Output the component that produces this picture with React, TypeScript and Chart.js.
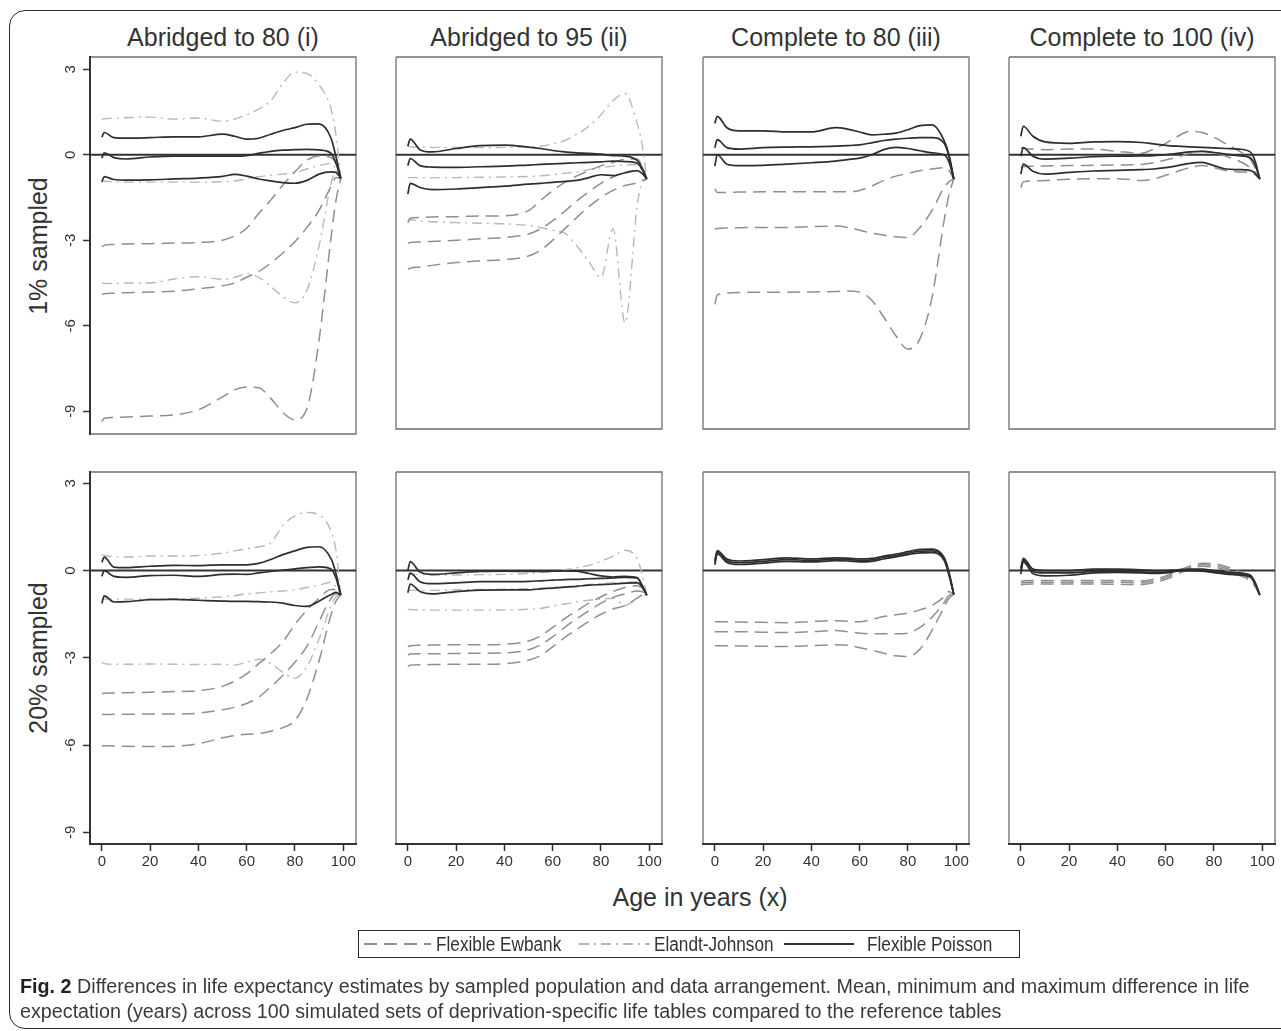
import React, { useEffect, useLayoutEffect, useRef } from 'react';
import { Chart, registerables } from 'chart.js';

Chart.register(...registerables);

const FONT = '"Liberation Sans", Arial, Helvetica, sans-serif';

// ---------- shared axes ----------
const AGES = [0, 1, 5, 10, 20, 30, 40, 50, 55, 60, 65, 70, 75, 80, 85, 90, 95, 97, 99];
const X_TICKS = [0, 20, 40, 60, 80, 100];
const Y_TICKS = [3, 0, -3, -6, -9];
const COLUMN_TITLES = ['Abridged to 80 (i)', 'Abridged to 95 (ii)', 'Complete to 80 (iii)', 'Complete to 100 (iv)'];
const ROW_TITLES = ['1% sampled', '20% sampled'];
const X_TITLE = 'Age in years (x)';
const METHODS = ['Flexible Ewbank', 'Elandt-Johnson', 'Flexible Poisson'];

// ---------- (i) Abridged to 80, 1% ----------
const A80_1_POI_HI = [0.62, 0.78, 0.6, 0.58, 0.6, 0.63, 0.63, 0.72, 0.65, 0.55, 0.58, 0.72, 0.85, 0.95, 1.07, 1.08, 0.57, -0.07, -0.83];
const A80_1_POI_MID = [-0.12, 0.07, -0.1, -0.15, -0.08, -0.05, -0.05, -0.05, -0.05, -0.03, 0.05, 0.12, 0.16, 0.18, 0.19, 0.17, 0.05, -0.3, -0.83];
const A80_1_POI_LO = [-0.95, -0.77, -0.87, -0.89, -0.88, -0.85, -0.82, -0.76, -0.69, -0.75, -0.85, -0.92, -0.98, -1.0, -0.9, -0.68, -0.6, -0.62, -0.83];
const A80_1_EWB_HI = [-3.22, -3.18, -3.15, -3.13, -3.12, -3.1, -3.08, -3.0, -2.85, -2.58, -2.06, -1.59, -1.06, -0.6, -0.19, -0.04, -0.1, -0.3, -0.83];
const A80_1_EWB_MID = [-4.89, -4.88, -4.86, -4.84, -4.82, -4.79, -4.7, -4.6, -4.5, -4.3, -4.1, -3.8, -3.45, -3.05, -2.55, -1.95, -1.1, -0.8, -0.83];
const A80_1_EWB_LO = [-9.37, -9.25, -9.22, -9.2, -9.17, -9.13, -8.95, -8.5, -8.25, -8.15, -8.18, -8.55, -9.05, -9.3, -8.9, -6.5, -2.88, -1.6, -0.83];
const A80_1_EJ_HI = [1.25, 1.26, 1.28, 1.3, 1.32, 1.25, 1.29, 1.17, 1.25, 1.4, 1.6, 1.9, 2.5, 2.9, 2.85, 2.45, 1.6, 0.7, -0.83];
const A80_1_EJ_MID = [-0.95, -0.93, -0.95, -0.96, -0.96, -0.96, -0.96, -0.95, -0.92, -0.85, -0.77, -0.72, -0.68, -0.63, -0.5, -0.38, -0.3, -0.5, -0.83];
const A80_1_EJ_LO = [-4.5, -4.52, -4.52, -4.5, -4.5, -4.36, -4.28, -4.37, -4.3, -4.18, -4.3, -4.62, -4.98, -5.2, -4.75, -3.2, -1.0, -0.55, -0.83];

// ---------- (ii) Abridged to 95, 1% ----------
const A95_1_POI_HI = [0.3, 0.55, 0.18, 0.1, 0.22, 0.32, 0.34, 0.27, 0.22, 0.15, 0.1, 0.07, 0.05, 0.02, -0.03, -0.05, -0.2, -0.45, -0.85];
const A95_1_POI_MID = [-0.38, -0.13, -0.38, -0.43, -0.44, -0.42, -0.4, -0.36, -0.34, -0.32, -0.3, -0.28, -0.27, -0.25, -0.22, -0.24, -0.3, -0.5, -0.85];
const A95_1_POI_LO = [-1.38, -1.0, -1.15, -1.22, -1.2, -1.15, -1.1, -1.03, -1.0, -0.97, -0.93, -0.9, -0.8, -0.7, -0.73, -0.63, -0.56, -0.65, -0.85];
const A95_1_EWB_HI = [-2.35, -2.22, -2.2, -2.18, -2.17, -2.15, -2.14, -1.96, -1.6, -1.26, -0.97, -0.74, -0.56, -0.39, -0.27, -0.15, -0.15, -0.4, -0.85];
const A95_1_EWB_MID = [-3.1, -3.08, -3.06, -3.04, -3.0, -2.95, -2.9, -2.78, -2.6, -2.32, -1.98, -1.62, -1.3, -1.0, -0.78, -0.62, -0.55, -0.65, -0.85];
const A95_1_EWB_LO = [-4.02, -3.98, -3.94, -3.88, -3.78, -3.72, -3.68, -3.55, -3.35, -3.0, -2.6, -2.2, -1.82, -1.5, -1.25, -1.08, -0.98, -0.9, -0.85];
const A95_1_EJ_HI = [0.3, 0.28, 0.27, 0.26, 0.26, 0.25, 0.26, 0.27, 0.3, 0.38, 0.5, 0.72, 1.0, 1.4, 1.9, 2.15, 1.1, 0.4, -0.85];
const A95_1_EJ_MID = [-0.8, -0.8, -0.8, -0.8, -0.8, -0.79, -0.78, -0.76, -0.74, -0.7, -0.65, -0.6, -0.52, -0.45, -0.4, -0.35, -0.35, -0.55, -0.85];
const A95_1_EJ_LO = [-2.4, -2.28, -2.32, -2.35, -2.38, -2.4, -2.42, -2.48, -2.55, -2.65, -2.75, -3.2, -3.75, -4.3, -2.6, -5.9, -1.8, -1.0, -0.85];

// ---------- (iii) Complete to 80, 1% ----------
const C80_1_POI_HI = [1.1, 1.35, 0.95, 0.84, 0.84, 0.8, 0.8, 0.95, 0.9, 0.8, 0.7, 0.72, 0.76, 0.88, 1.02, 1.05, 0.5, 0.0, -0.85];
const C80_1_POI_MID = [0.25, 0.53, 0.25, 0.2, 0.25, 0.27, 0.28, 0.3, 0.32, 0.35, 0.42, 0.5, 0.55, 0.58, 0.6, 0.6, 0.4, -0.05, -0.85];
const C80_1_POI_LO = [-0.4, 0.0, -0.33, -0.38, -0.37, -0.33, -0.28, -0.22, -0.17, -0.12, 0.0, 0.18, 0.26, 0.22, 0.14, 0.07, 0.0, -0.25, -0.85];
const C80_1_EWB_HI = [-1.2, -1.32, -1.32, -1.31, -1.3, -1.3, -1.3, -1.3, -1.3, -1.25, -1.1, -0.9, -0.75, -0.65, -0.56, -0.5, -0.45, -0.55, -0.85];
const C80_1_EWB_MID = [-2.61, -2.59, -2.57, -2.56, -2.55, -2.55, -2.52, -2.5, -2.55, -2.65, -2.75, -2.82, -2.88, -2.9, -2.55, -1.95, -1.15, -0.95, -0.85];
const C80_1_EWB_LO = [-5.25, -4.92, -4.85, -4.83, -4.82, -4.82, -4.81, -4.8, -4.78, -4.82, -5.1, -5.7, -6.35, -6.82, -6.45, -5.0, -2.3, -1.4, -0.85];

// ---------- (iv) Complete to 100, 1% ----------
const C100_1_POI_HI = [0.65, 1.0, 0.65, 0.45, 0.4, 0.45, 0.46, 0.43, 0.38, 0.33, 0.3, 0.28, 0.26, 0.24, 0.22, 0.2, 0.1, -0.2, -0.85];
const C100_1_POI_MID = [-0.05, 0.25, -0.05, -0.15, -0.12, -0.07, -0.05, -0.04, -0.03, 0.0, 0.05, 0.1, 0.12, 0.08, 0.02, -0.03, -0.1, -0.35, -0.85];
const C100_1_POI_LO = [-0.68, -0.33, -0.58, -0.68, -0.62, -0.57, -0.55, -0.52, -0.5, -0.45, -0.38, -0.3, -0.27, -0.38, -0.5, -0.52, -0.55, -0.65, -0.85];
const C100_1_EWB_HI = [0.25, 0.22, 0.2, 0.18, 0.2, 0.2, 0.12, 0.05, 0.2, 0.4, 0.65, 0.82, 0.78, 0.62, 0.38, 0.15, -0.15, -0.45, -0.85];
const C100_1_EWB_MID = [-0.45, -0.42, -0.4, -0.39, -0.38, -0.37, -0.36, -0.34, -0.28, -0.18, -0.08, 0.05, 0.12, 0.08, -0.05, -0.2, -0.45, -0.6, -0.85];
const C100_1_EWB_LO = [-1.15, -0.95, -0.92, -0.9, -0.86, -0.84, -0.84, -0.9, -0.85, -0.72, -0.58, -0.45, -0.38, -0.45, -0.55, -0.6, -0.62, -0.7, -0.85];

// ---------- (i) Abridged to 80, 20% ----------
const A80_20_POI_HI = [0.28, 0.46, 0.12, 0.1, 0.15, 0.18, 0.17, 0.2, 0.2, 0.2, 0.25, 0.38, 0.55, 0.68, 0.8, 0.82, 0.4, -0.1, -0.84];
const A80_20_POI_MID = [-0.2, 0.0, -0.2, -0.23, -0.17, -0.16, -0.2, -0.13, -0.12, -0.13, -0.08, -0.03, 0.02, 0.06, 0.1, 0.13, 0.05, -0.25, -0.84];
const A80_20_POI_LO = [-1.13, -0.87, -1.08, -1.07, -1.0, -0.99, -1.02, -1.05, -1.06, -1.06, -1.07, -1.08, -1.12, -1.2, -1.23, -1.05, -0.82, -0.75, -0.84];
const A80_20_EWB_HI = [-4.23, -4.22, -4.21, -4.2, -4.18, -4.16, -4.13, -3.98, -3.8, -3.55, -3.2, -2.85, -2.45, -1.85, -1.36, -0.95, -0.65, -0.65, -0.84];
const A80_20_EWB_MID = [-4.95, -4.95, -4.94, -4.94, -4.93, -4.93, -4.9, -4.78, -4.7, -4.57, -4.35, -4.0, -3.6, -3.15, -2.6, -1.75, -0.95, -0.8, -0.84];
const A80_20_EWB_LO = [-6.02, -6.02, -6.03, -6.04, -6.05, -6.04, -5.95, -5.75, -5.67, -5.63, -5.6, -5.52, -5.4, -5.15, -4.4, -3.1, -1.5, -1.05, -0.84];
const A80_20_EJ_HI = [0.55, 0.52, 0.48, 0.47, 0.5, 0.5, 0.52, 0.6, 0.68, 0.75, 0.82, 0.95, 1.55, 1.88, 2.0, 1.92, 1.35, 0.7, -0.84];
const A80_20_EJ_MID = [-0.98, -0.98, -0.98, -0.98, -0.98, -0.97, -0.95, -0.9, -0.86, -0.8, -0.77, -0.73, -0.7, -0.66, -0.58, -0.5, -0.4, -0.55, -0.84];
const A80_20_EJ_LO = [-3.15, -3.2, -3.22, -3.22, -3.21, -3.22, -3.23, -3.22, -3.25, -3.15, -3.05, -3.2, -3.5, -3.7, -3.3, -2.35, -1.2, -0.9, -0.84];

// ---------- (ii) Abridged to 95, 20% ----------
const A95_20_POI_HI = [0.0, 0.31, -0.05, -0.13, -0.08, -0.03, -0.02, -0.03, -0.03, -0.02, -0.01, -0.02, -0.1, -0.18, -0.22, -0.2, -0.25, -0.5, -0.84];
const A95_20_POI_MID = [-0.32, -0.09, -0.38, -0.45, -0.42, -0.38, -0.38, -0.37, -0.35, -0.33, -0.31, -0.3, -0.28, -0.27, -0.25, -0.23, -0.25, -0.5, -0.84];
const A95_20_POI_LO = [-0.76, -0.46, -0.72, -0.8, -0.72, -0.67, -0.66, -0.66, -0.63, -0.6, -0.57, -0.54, -0.5, -0.48, -0.46, -0.43, -0.42, -0.55, -0.84];
const A95_20_EWB_HI = [-2.62, -2.58, -2.57, -2.56, -2.55, -2.55, -2.53, -2.42, -2.25, -1.95, -1.65, -1.38, -1.12, -0.9, -0.72, -0.58, -0.52, -0.6, -0.84];
const A95_20_EWB_MID = [-2.9, -2.87, -2.86, -2.86, -2.85, -2.84, -2.83, -2.72, -2.55, -2.28, -1.95, -1.65, -1.38, -1.12, -0.92, -0.8, -0.7, -0.72, -0.84];
const A95_20_EWB_LO = [-3.3, -3.25, -3.24, -3.23, -3.22, -3.22, -3.2, -3.08, -2.92, -2.62, -2.3, -2.02, -1.75, -1.5, -1.32, -1.2, -0.95, -0.85, -0.84];
const A95_20_EJ_HI = [-0.1, -0.12, -0.14, -0.15, -0.15, -0.14, -0.13, -0.1, -0.07, -0.03, 0.03, 0.1, 0.18, 0.32, 0.5, 0.7, 0.4, -0.1, -0.84];
const A95_20_EJ_MID = [-0.68, -0.68, -0.68, -0.68, -0.66, -0.65, -0.64, -0.62, -0.6, -0.57, -0.55, -0.52, -0.48, -0.45, -0.42, -0.4, -0.38, -0.55, -0.84];
const A95_20_EJ_LO = [-1.33, -1.34, -1.35, -1.36, -1.36, -1.36, -1.35, -1.33, -1.3, -1.22, -1.15, -1.08, -1.02, -0.98, -0.95, -1.2, -0.95, -0.85, -0.84];

// ---------- (iii) Complete to 80, 20% ----------
const C80_20_POI_HI = [0.35, 0.69, 0.4, 0.33, 0.38, 0.44, 0.4, 0.44, 0.43, 0.4, 0.42, 0.5, 0.57, 0.65, 0.73, 0.74, 0.45, -0.05, -0.82];
const C80_20_POI_MID = [0.28, 0.63, 0.34, 0.27, 0.32, 0.38, 0.35, 0.39, 0.38, 0.35, 0.37, 0.45, 0.52, 0.6, 0.67, 0.68, 0.4, -0.1, -0.82];
const C80_20_POI_LO = [0.2, 0.57, 0.28, 0.21, 0.26, 0.32, 0.3, 0.34, 0.33, 0.3, 0.32, 0.4, 0.47, 0.55, 0.61, 0.62, 0.35, -0.15, -0.82];
const C80_20_EWB_HI = [-1.76, -1.76, -1.76, -1.77, -1.78, -1.79, -1.75, -1.72, -1.74, -1.76, -1.68, -1.58, -1.52, -1.46, -1.35, -1.2, -0.9, -0.72, -0.82];
const C80_20_EWB_MID = [-2.1, -2.1, -2.1, -2.1, -2.12, -2.13, -2.1, -2.06, -2.1, -2.15, -2.17, -2.17, -2.17, -2.15, -1.95, -1.6, -1.1, -0.85, -0.82];
const C80_20_EWB_LO = [-2.58, -2.58, -2.58, -2.59, -2.6, -2.61, -2.58, -2.55, -2.57, -2.65, -2.74, -2.84, -2.93, -2.95, -2.7, -2.05, -1.25, -0.95, -0.82];

// ---------- (iv) Complete to 100, 20% ----------
const C100_20_POI_HI = [0.08, 0.42, 0.05, 0.0, 0.0, 0.05, 0.05, 0.03, 0.0, 0.0, 0.03, 0.05, 0.05, 0.0, -0.05, -0.08, -0.15, -0.4, -0.84];
const C100_20_POI_MID = [0.0, 0.36, -0.03, -0.08, -0.08, -0.03, -0.02, -0.04, -0.06, -0.05, 0.0, 0.02, 0.02, -0.03, -0.08, -0.12, -0.18, -0.42, -0.84];
const C100_20_POI_LO = [-0.12, 0.3, -0.1, -0.18, -0.16, -0.08, -0.06, -0.08, -0.1, -0.08, -0.02, 0.0, -0.02, -0.07, -0.12, -0.15, -0.22, -0.45, -0.84];
const C100_20_EWB_HI = [-0.38, -0.35, -0.34, -0.34, -0.34, -0.34, -0.34, -0.36, -0.3, -0.18, 0.0, 0.15, 0.25, 0.24, 0.14, -0.02, -0.25, -0.45, -0.84];
const C100_20_EWB_MID = [-0.43, -0.41, -0.4, -0.4, -0.4, -0.4, -0.4, -0.42, -0.36, -0.24, -0.06, 0.1, 0.2, 0.18, 0.08, -0.08, -0.3, -0.5, -0.84];
const C100_20_EWB_LO = [-0.5, -0.47, -0.46, -0.46, -0.46, -0.46, -0.47, -0.48, -0.42, -0.3, -0.12, 0.05, 0.15, 0.12, 0.02, -0.15, -0.35, -0.55, -0.84];

// ---------- panel list ----------
type Trio = number[][];
interface PanelSpec { row: number; col: number; poisson: Trio; ewbank: Trio; elandt: Trio | null; }

const PANELS: PanelSpec[] = [
  { row: 0, col: 0, poisson: [A80_1_POI_HI, A80_1_POI_MID, A80_1_POI_LO], ewbank: [A80_1_EWB_HI, A80_1_EWB_MID, A80_1_EWB_LO], elandt: [A80_1_EJ_HI, A80_1_EJ_MID, A80_1_EJ_LO] },
  { row: 0, col: 1, poisson: [A95_1_POI_HI, A95_1_POI_MID, A95_1_POI_LO], ewbank: [A95_1_EWB_HI, A95_1_EWB_MID, A95_1_EWB_LO], elandt: [A95_1_EJ_HI, A95_1_EJ_MID, A95_1_EJ_LO] },
  { row: 0, col: 2, poisson: [C80_1_POI_HI, C80_1_POI_MID, C80_1_POI_LO], ewbank: [C80_1_EWB_HI, C80_1_EWB_MID, C80_1_EWB_LO], elandt: null },
  { row: 0, col: 3, poisson: [C100_1_POI_HI, C100_1_POI_MID, C100_1_POI_LO], ewbank: [C100_1_EWB_HI, C100_1_EWB_MID, C100_1_EWB_LO], elandt: null },
  { row: 1, col: 0, poisson: [A80_20_POI_HI, A80_20_POI_MID, A80_20_POI_LO], ewbank: [A80_20_EWB_HI, A80_20_EWB_MID, A80_20_EWB_LO], elandt: [A80_20_EJ_HI, A80_20_EJ_MID, A80_20_EJ_LO] },
  { row: 1, col: 1, poisson: [A95_20_POI_HI, A95_20_POI_MID, A95_20_POI_LO], ewbank: [A95_20_EWB_HI, A95_20_EWB_MID, A95_20_EWB_LO], elandt: [A95_20_EJ_HI, A95_20_EJ_MID, A95_20_EJ_LO] },
  { row: 1, col: 2, poisson: [C80_20_POI_HI, C80_20_POI_MID, C80_20_POI_LO], ewbank: [C80_20_EWB_HI, C80_20_EWB_MID, C80_20_EWB_LO], elandt: null },
  { row: 1, col: 3, poisson: [C100_20_POI_HI, C100_20_POI_MID, C100_20_POI_LO], ewbank: [C100_20_EWB_HI, C100_20_EWB_MID, C100_20_EWB_LO], elandt: null },
];

// ---------- layout & style ----------
const COL_LEFT = [90, 396, 703, 1009];
const PLOT_W = 266;
const ROW_TOP = [57, 472];
const ROW_BOTTOM = [429, 844];
const FIRST_BOTTOM = 434;
const X_MIN = -4.9;
const X_MAX = 105.3;
const Y_MAX = [3.43, 3.39];
const Y_MIN = [-9.62, -9.4];
const Y_MIN_FIRST = -9.8;
const PAD = 3;
const PAD_R = 8;
const Y_AXIS_W = 43;
const X_AXIS_H = 30;

const TEXT = '#333333';
const AXIS = '#333333';
const FRAME = '#707070';
const STYLE = {
  poisson: { color: '#2e2e2e', width: 1.7, dash: [] as number[] },
  ewbank: { color: '#8f8f8f', width: 1.5, dash: [13, 7] },
  elandt: { color: '#b8b8b8', width: 1.4, dash: [10, 5, 2, 5] },
};

function buildConfig(spec: PanelSpec): any {
  const isLeft = spec.col === 0;
  const isBottom = spec.row === 1;
  const datasets: any[] = [];
  const add = (vals: number[], kind: 'poisson' | 'ewbank' | 'elandt') => {
    const s = STYLE[kind];
    datasets.push({
      data: vals.map((y, i) => ({ x: AGES[i], y })),
      borderColor: s.color,
      borderWidth: s.width,
      borderDash: s.dash,
      pointRadius: 0,
      fill: false,
      cubicInterpolationMode: 'monotone',
    });
  };
  spec.poisson.forEach((v) => add(v, 'poisson'));
  spec.ewbank.forEach((v) => add(v, 'ewbank'));
  if (spec.elandt) spec.elandt.forEach((v) => add(v, 'elandt'));

  const yMin = spec.row === 0 && spec.col === 0 ? Y_MIN_FIRST : Y_MIN[spec.row];

  const panelPlugin = {
    id: 'panelDecor',
    beforeDraw(chart: any) {
      const { ctx, chartArea: a } = chart;
      ctx.save();
      ctx.strokeStyle = FRAME;
      ctx.lineWidth = 1.3;
      ctx.beginPath();
      ctx.moveTo(a.left, a.top);
      ctx.lineTo(a.right, a.top);
      ctx.lineTo(a.right, a.bottom);
      if (!isBottom) ctx.lineTo(a.left, a.bottom);
      else ctx.moveTo(a.left, a.bottom);
      if (!isLeft) ctx.lineTo(a.left, a.top);
      ctx.stroke();
      ctx.restore();
    },
    beforeDatasetsDraw(chart: any) {
      const { ctx, chartArea: a } = chart;
      const y0 = chart.scales.y.getPixelForValue(0);
      ctx.save();
      ctx.strokeStyle = AXIS;
      ctx.lineWidth = 2;
      ctx.beginPath();
      ctx.moveTo(a.left, y0);
      ctx.lineTo(a.right, y0);
      ctx.stroke();
      ctx.restore();
    },
    afterDraw(chart: any) {
      if (!isLeft) return;
      const { ctx, chartArea: a } = chart;
      const ys = chart.scales.y;
      ctx.save();
      ctx.font = `15px ${FONT}`;
      ctx.fillStyle = TEXT;
      ctx.textAlign = 'center';
      ctx.textBaseline = 'middle';
      Y_TICKS.forEach((v) => {
        const py = ys.getPixelForValue(v);
        ctx.save();
        ctx.translate(a.left - 19, py);
        ctx.rotate(-Math.PI / 2);
        ctx.fillText(String(v), 0, 0);
        ctx.restore();
      });
      ctx.restore();
    },
  };

  const xScale: any = {
    type: 'linear',
    min: X_MIN,
    max: X_MAX,
    display: isBottom,
    afterBuildTicks: (s: any) => { s.ticks = X_TICKS.map((value) => ({ value })); },
    grid: { display: true, drawOnChartArea: false, drawTicks: true, tickLength: 7, tickColor: AXIS, tickWidth: 1.5 },
    border: { display: true, color: AXIS, width: 2 },
    ticks: { font: { family: FONT, size: 15 }, color: TEXT, padding: 2, maxRotation: 0, minRotation: 0, autoSkip: false },
  };
  if (isBottom) xScale.afterFit = (s: any) => { s.height = X_AXIS_H; };

  const yScale: any = {
    type: 'linear',
    min: yMin,
    max: Y_MAX[spec.row],
    display: isLeft,
    afterBuildTicks: (s: any) => { s.ticks = Y_TICKS.map((value) => ({ value })); },
    grid: { display: true, drawOnChartArea: false, drawTicks: true, tickLength: 7, tickColor: AXIS, tickWidth: 1.5 },
    border: { display: true, color: AXIS, width: 2 },
    ticks: { display: false },
  };
  if (isLeft) yScale.afterFit = (s: any) => { s.width = Y_AXIS_W; };

  return {
    type: 'line',
    data: { datasets },
    plugins: [panelPlugin],
    options: {
      responsive: false,
      animation: false,
      devicePixelRatio: 1,
      events: [],
      layout: { padding: { left: isLeft ? 2 : PAD, right: PAD_R, top: PAD, bottom: PAD } },
      plugins: { legend: { display: false }, tooltip: { enabled: false }, title: { display: false } },
      scales: { x: xScale, y: yScale },
    },
  };
}

function Panel({ spec }: { spec: PanelSpec }) {
  const ref = useRef<HTMLCanvasElement>(null);
  const isLeft = spec.col === 0;
  const isBottom = spec.row === 1;
  const plotLeft = COL_LEFT[spec.col];
  const plotTop = ROW_TOP[spec.row];
  const plotBottom = spec.row === 0 && spec.col === 0 ? FIRST_BOTTOM : ROW_BOTTOM[spec.row];
  const padL = isLeft ? 2 + Y_AXIS_W : PAD;
  const padB = isBottom ? PAD + X_AXIS_H : PAD;
  const w = padL + PLOT_W + PAD_R;
  const h = PAD + (plotBottom - plotTop) + padB;

  useEffect(() => {
    const chart = new Chart(ref.current as HTMLCanvasElement, buildConfig(spec));
    return () => chart.destroy();
  }, [spec]);

  return (
    <canvas
      ref={ref}
      width={w}
      height={h}
      style={{ position: 'absolute', left: plotLeft - padL, top: plotTop - PAD, width: w, height: h }}
    />
  );
}

const LEGEND_BOX = { left: 358, top: 930, width: 662, height: 28 };
const LEGEND_ITEMS = [
  { kind: 'ewbank' as const, x1: 364, x2: 431, tx: 436 },
  { kind: 'elandt' as const, x1: 579, x2: 650, tx: 654 },
  { kind: 'poisson' as const, x1: 784, x2: 854, tx: 867 },
];

const CAPTION_1_REST = ' Differences in life expectancy estimates by sampled population and data arrangement. Mean, minimum and maximum difference in life';
const CAPTION_2 = 'expectation (years) across 100 simulated sets of deprivation-specific life tables compared to the reference tables';

export default function App() {
  const cap1 = useRef<HTMLDivElement>(null);
  const cap2 = useRef<HTMLDivElement>(null);

  useLayoutEffect(() => {
    if (!cap1.current || !cap2.current) return;
    const wdt = cap1.current.offsetWidth;
    const s = wdt > 0 ? 1230 / wdt : 1;
    cap1.current.style.transform = `scaleX(${s})`;
    cap2.current.style.transform = `scaleX(${s})`;
  }, []);

  const ly = LEGEND_BOX.top + LEGEND_BOX.height / 2;

  return (
    <div style={{ position: 'absolute', left: 0, top: 0, width: 1281, height: 1031, overflow: 'hidden', background: '#fff', fontFamily: FONT, color: TEXT }}>
      <div style={{ position: 'absolute', left: 9, top: 10, width: 1400, height: 1019, border: '1.5px solid #2a2a2a', borderRadius: 16, boxSizing: 'border-box' }} />

      {COLUMN_TITLES.map((t, i) => (
        <div key={t} style={{ position: 'absolute', left: COL_LEFT[i] - 30, width: PLOT_W + 60, top: 25, fontSize: 25, lineHeight: '25px', textAlign: 'center', whiteSpace: 'nowrap' }}>{t}</div>
      ))}

      {ROW_TITLES.map((t, i) => {
        const cy = i === 0 ? (ROW_TOP[0] + FIRST_BOTTOM) / 2 : (ROW_TOP[1] + ROW_BOTTOM[1]) / 2;
        return (
          <div key={t} style={{ position: 'absolute', left: 38 - 150, top: cy - 15, width: 300, height: 30, fontSize: 25, lineHeight: '30px', textAlign: 'center', whiteSpace: 'nowrap', transform: 'rotate(-90deg)' }}>{t}</div>
        );
      })}

      {PANELS.map((p) => (
        <Panel key={`${p.row}-${p.col}`} spec={p} />
      ))}

      <div style={{ position: 'absolute', left: 400, width: 600, top: 885, fontSize: 25, lineHeight: '25px', textAlign: 'center', whiteSpace: 'nowrap' }}>{X_TITLE}</div>

      <div style={{ position: 'absolute', left: LEGEND_BOX.left, top: LEGEND_BOX.top, width: LEGEND_BOX.width, height: LEGEND_BOX.height, border: '1.5px solid #2a2a2a', boxSizing: 'border-box' }} />
      <svg style={{ position: 'absolute', left: 0, top: 0 }} width={1281} height={1031}>
        {LEGEND_ITEMS.map((it) => {
          const s = STYLE[it.kind];
          return (
            <line key={it.kind} x1={it.x1} x2={it.x2} y1={ly} y2={ly} stroke={s.color} strokeWidth={it.kind === 'poisson' ? 2.2 : 2} strokeDasharray={s.dash.length ? s.dash.join(' ') : undefined} />
          );
        })}
      </svg>
      {LEGEND_ITEMS.map((it, i) => (
        <div key={it.kind + 't'} style={{ position: 'absolute', left: it.tx, top: ly - 12, fontSize: 20, lineHeight: '24px', whiteSpace: 'nowrap', transform: 'scaleX(0.86)', transformOrigin: 'left center' }}>{METHODS[i]}</div>
      ))}

      <div ref={cap1} style={{ position: 'absolute', left: 20, top: 975, fontSize: 20, lineHeight: '23px', whiteSpace: 'nowrap', transformOrigin: 'left center', color: '#3a3a3a' }}>
        <b style={{ color: '#222' }}>Fig. 2</b>{CAPTION_1_REST}
      </div>
      <div ref={cap2} style={{ position: 'absolute', left: 20, top: 1000, fontSize: 20, lineHeight: '23px', whiteSpace: 'nowrap', transformOrigin: 'left center', color: '#3a3a3a' }}>
        {CAPTION_2}
      </div>
    </div>
  );
}
